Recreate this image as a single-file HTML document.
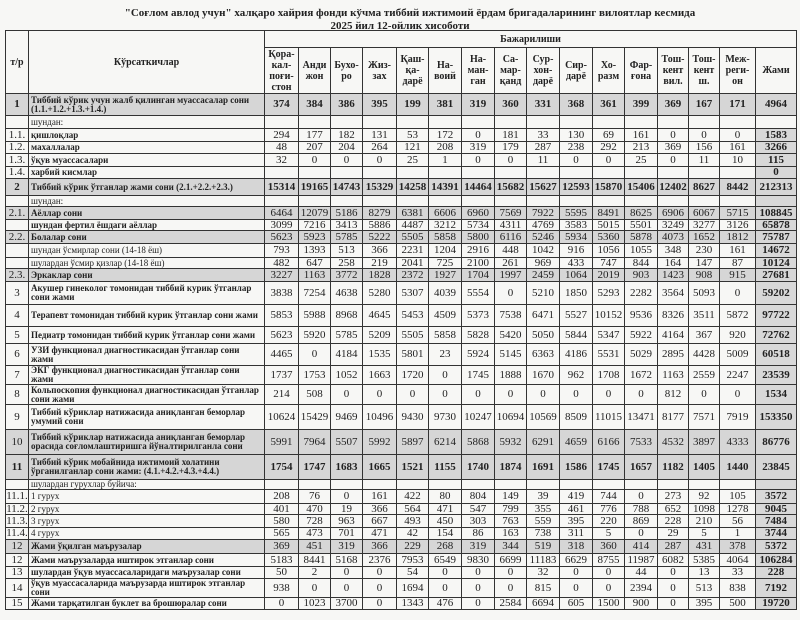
<!DOCTYPE html>
<html><head><meta charset="utf-8"><style>
body{margin:0;width:800px;height:620px;background:#f7f7f5;position:relative;overflow:hidden;font-family:"Liberation Serif",serif;color:#222}
.t1{position:absolute;top:7px;left:0;width:820px;text-align:center;font-weight:bold;font-size:11px}
.t2{position:absolute;top:20px;left:0;width:800px;text-align:center;font-weight:bold;font-size:11px}
table{position:absolute;left:5px;top:30px;border-collapse:collapse;table-layout:fixed;width:791px}
td{border:1px solid #333;padding:0;text-align:center;font-size:11px;line-height:9px;overflow:hidden;white-space:nowrap}
td.l{text-align:left;padding-left:2px;font-weight:bold;font-size:9px;white-space:normal;line-height:9px}
td.n{font-weight:normal}
td.j{background:#d8d8d8;font-weight:bold}
tr.g td{background:#d6d6d6}
tr.b td{font-weight:bold}
th{border:1px solid #333;font-weight:bold;font-size:10px;line-height:11px;padding:0}
</style></head><body>
<div class="t1">"Соғлом авлод учун" халқаро хайрия фонди кўчма тиббий ижтимоий ёрдам бригадаларининг вилоятлар кесмида</div>
<div class="t2">2025 йил 12-ойлик хисоботи</div>
<table>
<colgroup><col style="width:23px"><col style="width:236px"><col style="width:34px"><col style="width:32px"><col style="width:32px"><col style="width:34px"><col style="width:32px"><col style="width:33px"><col style="width:33px"><col style="width:32px"><col style="width:33px"><col style="width:33px"><col style="width:32px"><col style="width:33px"><col style="width:31px"><col style="width:31px"><col style="width:36px"><col style="width:41px"></colgroup>
<tr style="height:17px"><th rowspan="2">т/р</th><th rowspan="2">Кўрсаткичлар</th><th colspan="16">Бажарилиши</th></tr>
<tr style="height:46px"><th>Қора-<br>кал-<br>поғи-<br>стон</th><th>Анди<br>жон</th><th>Бухо-<br>ро</th><th>Жиз-<br>зах</th><th>Қаш-<br>қа-<br>дарё</th><th>На-<br>воий</th><th>На-<br>ман-<br>ган</th><th>Са-<br>мар-<br>қанд</th><th>Сур-<br>хон-<br>дарё</th><th>Сир-<br>дарё</th><th>Хо-<br>разм</th><th>Фар-<br>ғона</th><th>Тош-<br>кент<br>вил.</th><th>Тош-<br>кент<br>ш.</th><th>Меж-<br>реги-<br>он</th><th>Жами</th></tr>
<tr class="g b" style="height:22px"><td>1</td><td class="l">Тиббий кўрик учун жалб қилинган муассасалар сони (1.1.+1.2.+1.3.+1.4.)</td><td>374</td><td>384</td><td>386</td><td>395</td><td>199</td><td>381</td><td>319</td><td>360</td><td>331</td><td>368</td><td>361</td><td>399</td><td>369</td><td>167</td><td>171</td><td class="j">4964</td></tr>
<tr style="height:13px"><td></td><td class="l n">шундан:</td><td></td><td></td><td></td><td></td><td></td><td></td><td></td><td></td><td></td><td></td><td></td><td></td><td></td><td></td><td></td><td></td></tr>
<tr style="height:13px"><td>1.1.</td><td class="l">қишлоқлар</td><td>294</td><td>177</td><td>182</td><td>131</td><td>53</td><td>172</td><td>0</td><td>181</td><td>33</td><td>130</td><td>69</td><td>161</td><td>0</td><td>0</td><td>0</td><td class="j">1583</td></tr>
<tr style="height:12px"><td>1.2.</td><td class="l">махаллалар</td><td>48</td><td>207</td><td>204</td><td>264</td><td>121</td><td>208</td><td>319</td><td>179</td><td>287</td><td>238</td><td>292</td><td>213</td><td>369</td><td>156</td><td>161</td><td class="j">3266</td></tr>
<tr style="height:13px"><td>1.3.</td><td class="l">ўқув муассасалари</td><td>32</td><td>0</td><td>0</td><td>0</td><td>25</td><td>1</td><td>0</td><td>0</td><td>11</td><td>0</td><td>0</td><td>25</td><td>0</td><td>11</td><td>10</td><td class="j">115</td></tr>
<tr style="height:12px"><td>1.4.</td><td class="l">харбий кисмлар</td><td></td><td></td><td></td><td></td><td></td><td></td><td></td><td></td><td></td><td></td><td></td><td></td><td></td><td></td><td></td><td class="j">0</td></tr>
<tr class="g b" style="height:17px"><td>2</td><td class="l">Тиббий кўрик ўтганлар жами сони (2.1.+2.2.+2.3.)</td><td>15314</td><td>19165</td><td>14743</td><td>15329</td><td>14258</td><td>14391</td><td>14464</td><td>15682</td><td>15627</td><td>12593</td><td>15870</td><td>15406</td><td>12402</td><td>8627</td><td>8442</td><td class="j">212313</td></tr>
<tr style="height:11px"><td></td><td class="l n">шундан:</td><td></td><td></td><td></td><td></td><td></td><td></td><td></td><td></td><td></td><td></td><td></td><td></td><td></td><td></td><td></td><td class="j"></td></tr>
<tr class="g" style="height:13px"><td>2.1.</td><td class="l">Аёллар сони</td><td>6464</td><td>12079</td><td>5186</td><td>8279</td><td>6381</td><td>6606</td><td>6960</td><td>7569</td><td>7922</td><td>5595</td><td>8491</td><td>8625</td><td>6906</td><td>6067</td><td>5715</td><td class="j">108845</td></tr>
<tr style="height:11px"><td></td><td class="l">шундан фертил ёшдаги аёллар</td><td>3099</td><td>7216</td><td>3413</td><td>5886</td><td>4487</td><td>3212</td><td>5734</td><td>4311</td><td>4769</td><td>3583</td><td>5015</td><td>5501</td><td>3249</td><td>3277</td><td>3126</td><td class="j">65878</td></tr>
<tr class="g" style="height:13px"><td>2.2.</td><td class="l">Болалар сони</td><td>5623</td><td>5923</td><td>5785</td><td>5222</td><td>5505</td><td>5858</td><td>5800</td><td>6116</td><td>5246</td><td>5934</td><td>5360</td><td>5878</td><td>4073</td><td>1652</td><td>1812</td><td class="j">75787</td></tr>
<tr style="height:14px"><td></td><td class="l n">шундан ўсмирлар сони (14-18 ёш)</td><td>793</td><td>1393</td><td>513</td><td>366</td><td>2231</td><td>1204</td><td>2916</td><td>448</td><td>1042</td><td>916</td><td>1056</td><td>1055</td><td>348</td><td>230</td><td>161</td><td class="j">14672</td></tr>
<tr style="height:11px"><td></td><td class="l n">шулардан ўсмир қизлар (14-18 ёш)</td><td>482</td><td>647</td><td>258</td><td>219</td><td>2041</td><td>725</td><td>2100</td><td>261</td><td>969</td><td>433</td><td>747</td><td>844</td><td>164</td><td>147</td><td>87</td><td class="j">10124</td></tr>
<tr class="g" style="height:13px"><td>2.3.</td><td class="l">Эркаклар сони</td><td>3227</td><td>1163</td><td>3772</td><td>1828</td><td>2372</td><td>1927</td><td>1704</td><td>1997</td><td>2459</td><td>1064</td><td>2019</td><td>903</td><td>1423</td><td>908</td><td>915</td><td class="j">27681</td></tr>
<tr style="height:23px"><td>3</td><td class="l">Акушер гинеколог томонидан тиббий курик ўтганлар сони жами</td><td>3838</td><td>7254</td><td>4638</td><td>5280</td><td>5307</td><td>4039</td><td>5554</td><td>0</td><td>5210</td><td>1850</td><td>5293</td><td>2282</td><td>3564</td><td>5093</td><td>0</td><td class="j">59202</td></tr>
<tr style="height:22px"><td>4</td><td class="l">Терапевт томонидан тиббий курик ўтганлар сони жами</td><td>5853</td><td>5988</td><td>8968</td><td>4645</td><td>5453</td><td>4509</td><td>5373</td><td>7538</td><td>6471</td><td>5527</td><td>10152</td><td>9536</td><td>8326</td><td>3511</td><td>5872</td><td class="j">97722</td></tr>
<tr style="height:17px"><td>5</td><td class="l">Педиатр томонидан тиббий курик ўтганлар сони жами</td><td>5623</td><td>5920</td><td>5785</td><td>5209</td><td>5505</td><td>5858</td><td>5828</td><td>5420</td><td>5050</td><td>5844</td><td>5347</td><td>5922</td><td>4164</td><td>367</td><td>920</td><td class="j">72762</td></tr>
<tr style="height:22px"><td>6</td><td class="l">УЗИ функционал диагностикасидан ўтганлар сони жами</td><td>4465</td><td>0</td><td>4184</td><td>1535</td><td>5801</td><td>23</td><td>5924</td><td>5145</td><td>6363</td><td>4186</td><td>5531</td><td>5029</td><td>2895</td><td>4428</td><td>5009</td><td class="j">60518</td></tr>
<tr style="height:18px"><td>7</td><td class="l">ЭКГ функционал диагностикасидан ўтганлар сони жами</td><td>1737</td><td>1753</td><td>1052</td><td>1663</td><td>1720</td><td>0</td><td>1745</td><td>1888</td><td>1670</td><td>962</td><td>1708</td><td>1672</td><td>1163</td><td>2559</td><td>2247</td><td class="j">23539</td></tr>
<tr style="height:20px"><td>8</td><td class="l">Кольпоскопия функционал диагностикасидан ўтганлар сони жами</td><td>214</td><td>508</td><td>0</td><td>0</td><td>0</td><td>0</td><td>0</td><td>0</td><td>0</td><td>0</td><td>0</td><td>0</td><td>812</td><td>0</td><td>0</td><td class="j">1534</td></tr>
<tr style="height:25px"><td>9</td><td class="l">Тиббий кўриклар натижасида аниқланган беморлар умумий сони</td><td>10624</td><td>15429</td><td>9469</td><td>10496</td><td>9430</td><td>9730</td><td>10247</td><td>10694</td><td>10569</td><td>8509</td><td>11015</td><td>13471</td><td>8177</td><td>7571</td><td>7919</td><td class="j">153350</td></tr>
<tr class="g" style="height:25px"><td>10</td><td class="l">Тиббий кўриклар натижасида аниқланган беморлар орасида соғломлаштиришга йўналтирилганла сони</td><td>5991</td><td>7964</td><td>5507</td><td>5992</td><td>5897</td><td>6214</td><td>5868</td><td>5932</td><td>6291</td><td>4659</td><td>6166</td><td>7533</td><td>4532</td><td>3897</td><td>4333</td><td class="j">86776</td></tr>
<tr class="g b" style="height:25px"><td>11</td><td class="l">Тиббий кўрик мобайнида ижтимоий холатини ўрганилганлар сони жами: (4.1.+4.2.+4.3.+4.4.)</td><td>1754</td><td>1747</td><td>1683</td><td>1665</td><td>1521</td><td>1155</td><td>1740</td><td>1874</td><td>1691</td><td>1586</td><td>1745</td><td>1657</td><td>1182</td><td>1405</td><td>1440</td><td class="j">23845</td></tr>
<tr style="height:10px"><td></td><td class="l n">шулардан гурухлар буйича:</td><td></td><td></td><td></td><td></td><td></td><td></td><td></td><td></td><td></td><td></td><td></td><td></td><td></td><td></td><td></td><td class="j"></td></tr>
<tr style="height:14px"><td>11.1.</td><td class="l n">1 гурух</td><td>208</td><td>76</td><td>0</td><td>161</td><td>422</td><td>80</td><td>804</td><td>149</td><td>39</td><td>419</td><td>744</td><td>0</td><td>273</td><td>92</td><td>105</td><td class="j">3572</td></tr>
<tr style="height:11px"><td>11.2.</td><td class="l n">2 гурух</td><td>401</td><td>470</td><td>19</td><td>366</td><td>564</td><td>471</td><td>547</td><td>799</td><td>355</td><td>461</td><td>776</td><td>788</td><td>652</td><td>1098</td><td>1278</td><td class="j">9045</td></tr>
<tr style="height:13px"><td>11.3.</td><td class="l n">3 гурух</td><td>580</td><td>728</td><td>963</td><td>667</td><td>493</td><td>450</td><td>303</td><td>763</td><td>559</td><td>395</td><td>220</td><td>869</td><td>228</td><td>210</td><td>56</td><td class="j">7484</td></tr>
<tr style="height:12px"><td>11.4.</td><td class="l n">4 гурух</td><td>565</td><td>473</td><td>701</td><td>471</td><td>42</td><td>154</td><td>86</td><td>163</td><td>738</td><td>311</td><td>5</td><td>0</td><td>29</td><td>5</td><td>1</td><td class="j">3744</td></tr>
<tr class="g" style="height:14px"><td>12</td><td class="l">Жами ўқилган маърузалар</td><td>369</td><td>451</td><td>319</td><td>366</td><td>229</td><td>268</td><td>319</td><td>344</td><td>519</td><td>318</td><td>360</td><td>414</td><td>287</td><td>431</td><td>378</td><td class="j">5372</td></tr>
<tr style="height:13px"><td>12</td><td class="l">Жами маърузаларда иштирок этганлар сони</td><td>5183</td><td>8441</td><td>5168</td><td>2376</td><td>7953</td><td>6549</td><td>9830</td><td>6699</td><td>11183</td><td>6629</td><td>8755</td><td>11987</td><td>6082</td><td>5385</td><td>4064</td><td class="j">106284</td></tr>
<tr style="height:12px"><td>13</td><td class="l">шулардан ўқув муассасаларидаги маърузалар сони</td><td>50</td><td>2</td><td>0</td><td>0</td><td>54</td><td>0</td><td>0</td><td>0</td><td>32</td><td>0</td><td>0</td><td>44</td><td>0</td><td>13</td><td>33</td><td class="j">228</td></tr>
<tr style="height:18px"><td>14</td><td class="l">ўқув муассасаларида маърузарда иштирок этганлар сони</td><td>938</td><td>0</td><td>0</td><td>0</td><td>1694</td><td>0</td><td>0</td><td>0</td><td>815</td><td>0</td><td>0</td><td>2394</td><td>0</td><td>513</td><td>838</td><td class="j">7192</td></tr>
<tr style="height:12px"><td>15</td><td class="l">Жами тарқатилган буклет ва брошюралар сони</td><td>0</td><td>1023</td><td>3700</td><td>0</td><td>1343</td><td>476</td><td>0</td><td>2584</td><td>6694</td><td>605</td><td>1500</td><td>900</td><td>0</td><td>395</td><td>500</td><td class="j">19720</td></tr>
</table>
</body></html>
